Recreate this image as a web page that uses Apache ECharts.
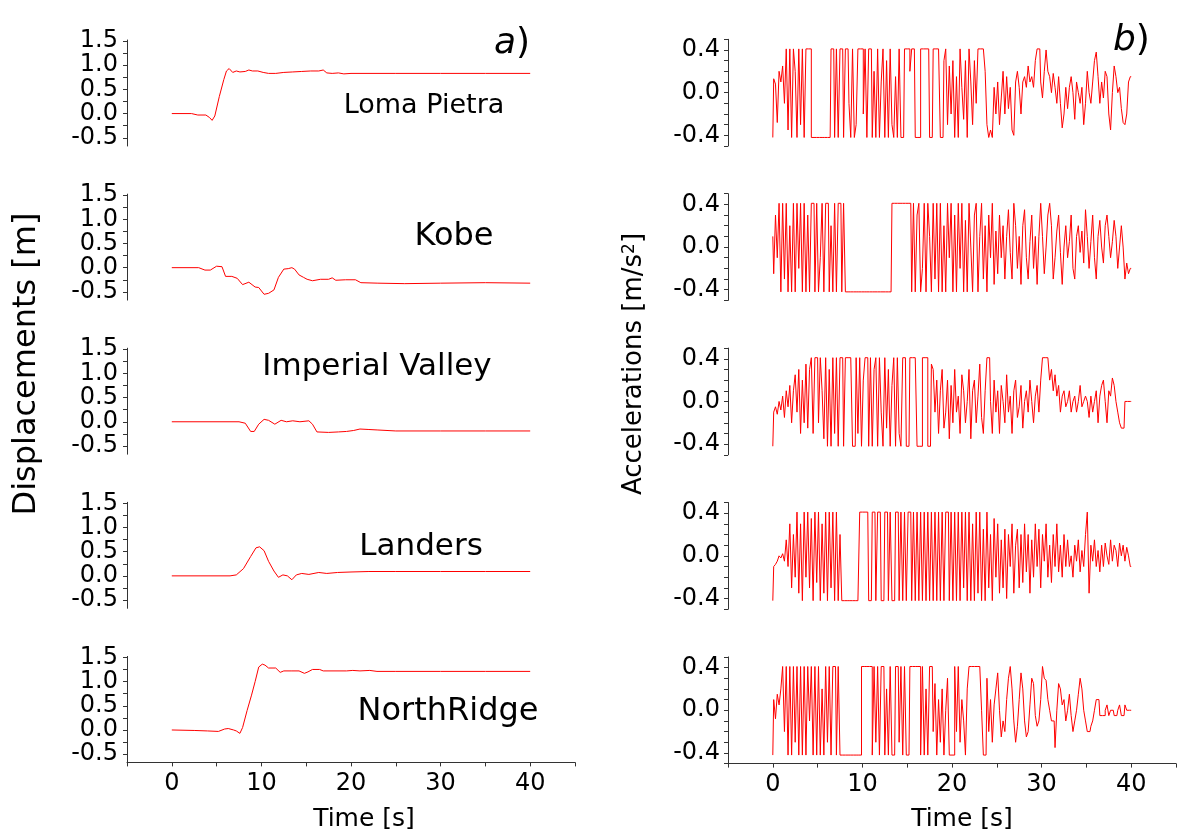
<!DOCTYPE html>
<html>
<head>
<meta charset="utf-8">
<script src="https://cdn.jsdelivr.net/npm/echarts@6/dist/echarts.min.js"></script>
<style>
html,body{margin:0;padding:0;background:#fff;}
#chart{width:1177px;height:837px;}
</style>
</head>
<body>
<div id="chart"></div>
<script>
// ---------------- DATA ----------------
const quakeNames = ['Loma Pietra', 'Kobe', 'Imperial Valley', 'Landers', 'NorthRidge'];

// tick values / tick labels
const timeTicks = [-5, 0, 5, 10, 15, 20, 25, 30, 35, 40, 45];
const timeTickLabels = [0, 10, 20, 30, 40];
const dispTicks = [-0.5, -0.25, 0, 0.25, 0.5, 0.75, 1, 1.25, 1.5];
const dispTickLabels = [-0.5, 0, 0.5, 1, 1.5];
const accTicks = [-0.5, -0.4, -0.3, -0.2, -0.1, 0, 0.1, 0.2, 0.3, 0.4, 0.5];
const accTickLabels = [-0.4, 0, 0.4];

// displacements [time s, displacement m]
const dispLoma = [[0,0],[2.2,0],[2.9,-0.03],[3.8,-0.03],[4.2,-0.08],[4.5,-0.14],[4.8,-0.05],[5.3,0.35],[5.8,0.7],[6.1,0.88],[6.4,0.93],[6.8,0.85],[7.2,0.88],[7.6,0.86],[8.2,0.87],[8.6,0.9],[9.0,0.88],[9.6,0.88],[10.2,0.85],[10.8,0.83],[11.6,0.83],[12.5,0.85],[13.5,0.86],[14.5,0.87],[15.5,0.88],[16.4,0.88],[16.9,0.9],[17.3,0.84],[17.9,0.83],[18.6,0.84],[19.2,0.82],[20,0.83],[25,0.83],[30,0.83],[35,0.83],[40,0.83]];
const dispKobe = [[0,0],[3,0],[3.7,-0.05],[4.3,-0.05],[5.0,0.03],[5.6,0.02],[6.0,-0.18],[6.7,-0.18],[7.3,-0.22],[7.9,-0.35],[8.6,-0.3],[9.3,-0.4],[9.7,-0.41],[10.3,-0.55],[10.8,-0.53],[11.4,-0.46],[11.9,-0.2],[12.5,-0.03],[13.0,-0.02],[13.4,0.0],[13.7,-0.03],[14.2,-0.15],[14.7,-0.2],[15.1,-0.24],[15.7,-0.27],[16.6,-0.24],[17.5,-0.24],[17.9,-0.21],[18.3,-0.26],[19.4,-0.25],[20.5,-0.25],[21.1,-0.31],[23,-0.32],[26,-0.33],[30,-0.32],[35,-0.31],[40,-0.32]];
const dispImperial = [[0,0],[7.5,0],[8.2,-0.03],[8.8,-0.2],[9.2,-0.2],[9.7,-0.05],[10.3,0.05],[10.8,0.03],[11.5,-0.05],[12.2,0.03],[12.8,0.0],[13.5,0.02],[14.3,0.0],[15.3,0.02],[15.7,-0.05],[16.2,-0.21],[17.5,-0.22],[18.6,-0.21],[19.5,-0.2],[20.3,-0.18],[21,-0.15],[22,-0.16],[23,-0.17],[25,-0.19],[30,-0.19],[35,-0.19],[40,-0.19]];
const dispLanders = [[0,0],[6.5,0],[7.2,0.02],[8.0,0.15],[8.8,0.4],[9.4,0.58],[9.8,0.6],[10.3,0.52],[10.8,0.3],[11.4,0.1],[11.9,-0.03],[12.4,0.02],[12.9,0.0],[13.4,-0.08],[13.9,0.02],[14.5,0.05],[15.3,0.03],[16.4,0.07],[17.3,0.05],[18.5,0.07],[20,0.08],[22,0.09],[25,0.09],[30,0.09],[35,0.09],[40,0.09]];
const dispNorth = [[0,0],[2.5,-0.01],[4,-0.02],[5.2,-0.03],[5.9,0.02],[6.3,0.03],[6.9,0.0],[7.2,-0.02],[7.6,-0.07],[7.9,0.05],[8.4,0.4],[8.9,0.72],[9.3,1.0],[9.7,1.3],[10.1,1.36],[10.4,1.34],[10.8,1.28],[11.6,1.28],[12.1,1.19],[12.5,1.22],[13.4,1.22],[14.2,1.22],[14.8,1.17],[15.2,1.2],[15.7,1.25],[16.5,1.25],[16.9,1.22],[19.5,1.22],[20.2,1.23],[21,1.22],[22.1,1.23],[22.9,1.21],[25,1.21],[30,1.21],[35,1.21],[40,1.21]];

// accelerations, one value every 0.2 s from 0 to 40 s (5 values per line = 1 s)
const ACC_DT = 0.2;
const accLoma = [
-0.42,0.13,0.08,-0.28,0.2,
0.1,0.25,-0.1,0.41,-0.35,
0.41,-0.42,0.41,0.2,-0.42,
0.41,-0.3,0.41,-0.42,0.41,
0.41,0.41,-0.42,-0.42,-0.42,
-0.42,-0.42,-0.42,-0.42,-0.42,
-0.42,-0.42,-0.42,0.41,0.41,
-0.42,0.41,-0.42,0.41,0.41,
-0.42,0.41,0.41,-0.1,-0.42,
0.41,-0.42,-0.3,0.41,0.41,
0.41,-0.2,0.41,-0.42,0.41,
0.41,-0.42,0.2,-0.42,0.41,
-0.42,0.1,0.41,-0.42,0.3,
-0.42,0.41,-0.3,-0.42,0.15,
-0.42,0.41,-0.42,-0.42,0.41,
0.41,0.41,0.2,0.41,0.41,
-0.42,-0.42,-0.42,0.41,0.41,
0.41,0.41,0.41,-0.42,-0.42,
0.41,0.41,0.41,0.41,-0.42,
-0.42,0.3,0.41,-0.3,0.25,
-0.2,0.3,-0.42,0.15,-0.42,
0.41,0.05,-0.25,0.3,-0.42,
0.41,0.1,-0.3,0.3,-0.1,
0.41,0.41,0.41,0.41,0.2,
-0.3,-0.42,-0.35,-0.42,0.05,
-0.2,0.1,-0.3,-0.05,0.2,
-0.2,0.15,-0.15,0.05,-0.35,
-0.4,0.1,0.2,0.05,-0.2,
0.1,0.15,0.05,0.25,0.1,
0.15,0.05,0.3,0.41,0.41,
0.1,-0.05,0.2,0.4,0.2,
0.15,0.0,0.18,0.05,-0.1,
0.15,-0.1,-0.33,-0.2,0.05,
-0.15,0.05,0.15,0.0,-0.25,
0.1,0.0,-0.1,0.05,-0.3,
-0.1,0.2,0.0,-0.1,0.1,
0.3,0.38,0.15,-0.1,0.1,
-0.05,0.2,0.15,-0.2,-0.35,
0.0,0.25,0.15,0.0,0.05,
-0.15,-0.28,-0.3,-0.2,0.1,
0.15];
const accKobe = [
0.1,-0.25,0.3,-0.1,0.41,
-0.42,0.41,-0.3,0.41,-0.42,
0.2,-0.42,0.41,-0.42,0.41,
-0.2,0.41,-0.42,0.41,-0.42,
0.3,-0.42,0.41,0.41,-0.42,
0.41,-0.42,-0.1,0.41,-0.42,
0.41,0.41,-0.42,0.2,-0.42,
0.41,-0.42,0.41,0.41,-0.42,
0.41,-0.42,-0.42,-0.42,-0.42,
-0.42,-0.42,-0.42,-0.42,-0.42,
-0.42,-0.42,-0.42,-0.42,-0.42,
-0.42,-0.42,-0.42,-0.42,-0.42,
-0.42,-0.42,-0.42,-0.42,-0.42,
-0.42,-0.42,0.41,0.41,0.41,
0.41,0.41,0.41,0.41,0.41,
0.41,0.41,0.41,-0.42,0.41,
-0.42,0.3,0.41,-0.42,-0.2,
0.41,-0.42,0.41,0.1,-0.42,
0.41,-0.3,0.41,-0.42,0.41,
-0.42,0.2,-0.42,0.41,-0.1,
0.41,-0.42,0.3,-0.42,0.41,
-0.2,0.41,-0.42,0.25,-0.42,
0.41,0.0,-0.42,0.3,0.41,
-0.42,0.1,0.41,-0.3,0.2,
-0.42,0.3,-0.1,0.41,-0.35,
0.15,-0.25,0.3,-0.1,0.2,
-0.3,0.1,0.35,-0.05,-0.3,
0.41,0.2,-0.2,0.1,-0.35,
0.2,0.35,-0.1,-0.3,0.05,
0.3,-0.2,0.1,-0.35,0.1,
0.41,0.1,-0.25,0.0,0.3,
0.41,0.2,-0.3,-0.1,0.15,
0.3,-0.05,-0.35,0.0,0.2,
-0.1,0.05,0.3,-0.2,-0.3,
0.1,0.2,-0.05,0.15,-0.15,
0.35,0.1,-0.2,0.05,0.3,
-0.1,-0.3,0.1,0.25,0.0,
-0.15,0.2,0.3,0.1,-0.1,
0.05,0.25,0.1,-0.2,0.0,
0.2,0.0,-0.3,-0.15,-0.25,
-0.2];
const accImperial = [
-0.42,-0.1,-0.05,-0.12,0.0,
-0.08,0.05,-0.15,0.1,-0.05,
0.15,-0.2,0.1,0.25,-0.1,
0.3,-0.3,0.2,-0.2,0.35,
-0.25,0.3,0.41,-0.3,0.41,
0.41,-0.2,0.41,0.1,-0.35,
0.41,-0.42,0.3,-0.42,0.41,
-0.3,0.41,-0.42,0.41,0.41,
-0.42,0.41,0.41,0.41,0.41,
-0.42,-0.42,0.41,-0.3,0.41,
-0.42,0.2,0.41,0.41,-0.42,
0.41,-0.42,0.3,0.41,-0.42,
0.41,-0.1,-0.42,0.41,-0.25,
0.3,-0.42,0.15,0.41,-0.42,
0.41,-0.3,-0.42,0.41,0.41,
-0.42,-0.42,0.41,0.41,0.41,
0.41,-0.42,-0.42,-0.42,0.41,
0.41,0.41,-0.42,-0.42,0.35,
0.3,-0.1,0.2,-0.3,0.1,
0.3,-0.25,-0.1,0.2,-0.35,
0.15,-0.2,0.3,-0.1,0.05,
-0.3,0.25,0.1,-0.2,0.0,
0.3,-0.35,0.1,0.2,-0.2,
0.05,0.35,-0.15,-0.3,0.1,
0.41,0.41,0.0,-0.3,0.2,
-0.1,0.1,-0.3,0.15,0.0,
-0.2,0.25,-0.1,0.05,-0.3,
0.1,0.2,-0.15,-0.05,0.15,
-0.25,0.0,0.1,-0.1,0.2,
0.0,-0.2,0.05,0.15,-0.1,
0.2,0.41,0.41,0.41,0.41,
0.2,0.3,0.1,0.25,0.05,
0.15,-0.1,0.05,0.1,-0.05,
0.0,0.1,-0.1,0.0,0.05,
-0.1,0.0,0.15,-0.05,0.0,
0.05,0.0,-0.15,0.05,-0.1,
0.0,0.1,-0.2,0.05,0.15,
0.2,0.0,-0.2,0.1,0.05,
0.22,0.15,0.0,-0.1,-0.2,
-0.25,-0.25,0.0,0.0,0.0,
0.0];
const accLanders = [
-0.42,-0.1,-0.08,-0.05,0.0,
-0.02,0.02,-0.05,0.15,-0.1,
0.3,-0.3,0.2,-0.2,0.41,
-0.35,0.3,-0.42,0.41,-0.2,
0.41,-0.3,0.35,-0.42,0.41,
-0.25,0.41,-0.42,0.3,-0.35,
0.41,-0.42,0.41,-0.3,0.41,
-0.42,0.41,-0.42,0.2,-0.42,
-0.42,-0.42,-0.42,-0.42,-0.42,
-0.42,-0.42,-0.42,-0.42,0.41,
0.41,0.41,0.41,0.41,-0.42,
-0.42,0.41,0.41,-0.42,0.41,
0.41,-0.42,-0.42,0.41,0.41,
-0.42,0.41,-0.42,-0.42,0.41,
0.41,-0.42,0.41,-0.42,0.41,
-0.42,0.41,0.41,-0.42,0.41,
-0.42,0.41,-0.42,0.41,-0.42,
0.41,-0.42,0.41,-0.42,0.41,
-0.42,0.41,-0.42,0.41,-0.42,
0.41,-0.42,0.41,0.41,-0.42,
0.41,-0.42,0.41,-0.42,0.41,
-0.42,0.41,-0.3,0.41,-0.42,
0.41,-0.42,0.3,-0.42,0.41,
-0.35,0.41,-0.42,0.25,-0.42,
0.41,-0.3,0.2,-0.42,0.35,
-0.2,0.3,-0.35,0.15,-0.3,
0.25,-0.4,0.2,-0.1,0.3,
-0.35,0.1,0.25,-0.3,0.2,
-0.25,0.3,-0.15,0.2,-0.35,
0.15,-0.2,0.3,-0.1,0.25,
-0.3,0.2,-0.05,0.3,-0.2,
0.1,-0.25,0.2,-0.1,0.3,
-0.15,0.1,-0.2,0.2,-0.1,
0.15,-0.1,0.0,-0.2,0.1,
-0.05,0.15,-0.15,0.05,-0.1,
0.2,0.41,-0.35,0.1,-0.05,
0.15,-0.1,0.05,-0.15,0.1,
-0.1,0.12,0.0,-0.08,0.15,
-0.05,0.1,0.05,-0.1,0.12,
0.0,0.1,-0.05,0.08,0.0,
-0.1];
const accNorth = [
-0.42,0.1,-0.08,0.15,0.05,
0.2,0.41,-0.2,0.41,-0.42,
0.41,-0.42,0.41,-0.3,0.41,
-0.42,0.41,-0.42,0.41,-0.42,
0.41,-0.1,0.41,-0.42,0.41,
-0.42,0.41,-0.42,0.2,-0.42,
0.41,-0.3,0.41,-0.42,0.41,
0.41,-0.42,0.41,-0.42,-0.42,
-0.42,-0.42,-0.42,-0.42,-0.42,
-0.42,-0.42,-0.42,-0.42,-0.42,
0.41,0.41,0.41,0.41,0.41,
0.41,-0.42,0.41,-0.3,0.41,
-0.42,0.41,0.41,-0.42,0.2,
-0.42,0.41,-0.42,-0.42,0.41,
0.41,-0.3,0.41,-0.42,0.41,
-0.42,-0.42,0.41,0.41,0.41,
0.41,0.41,0.41,-0.42,0.41,
-0.42,0.2,-0.42,0.41,0.41,
-0.2,0.25,-0.42,0.1,-0.3,
0.2,-0.42,0.0,0.3,-0.42,
-0.42,-0.42,0.41,-0.2,0.41,
-0.3,0.1,-0.1,-0.42,0.2,
0.41,0.41,0.41,0.41,0.41,
0.41,0.41,0.0,-0.42,-0.42,
0.3,-0.2,0.1,-0.3,0.05,
0.2,0.35,0.0,-0.25,-0.1,
-0.2,0.1,0.3,0.41,0.2,
-0.1,-0.3,-0.15,0.1,0.35,
0.2,-0.1,-0.25,-0.2,0.05,
0.3,0.25,-0.05,-0.15,-0.1,
0.1,0.41,0.3,0.28,0.1,
0.0,-0.1,-0.1,-0.35,0.0,
0.25,0.2,0.05,0.1,-0.1,
0.0,0.15,-0.05,-0.2,-0.1,
0.0,0.15,0.3,0.2,0.0,
-0.1,-0.2,-0.2,-0.15,-0.1,
0.0,0.1,0.1,-0.05,-0.05,
-0.05,0.0,0.05,-0.05,0.0,
0.0,-0.05,-0.05,0.0,0.05,
-0.05,-0.05,0.05,0.0,0.0,
0.0];

const dispSeriesData = [dispLoma, dispKobe, dispImperial, dispLanders, dispNorth];
const accSeriesData = [accLoma, accKobe, accImperial, accLanders, accNorth];

// ---------------- CHART ----------------
const FONT = '"DejaVu Sans", "Liberation Sans", sans-serif';
const AXIS_COLOR = '#333';
const LINE_COLOR = '#ff0000';

function accPairs(vals) {
  return vals.map((v, i) => [Math.round(i * ACC_DT * 100) / 100, v]);
}

const grids = [], xAxes = [], yAxes = [], series = [];
const annotPos = [
  { x: 424, y: 106, size: 27 },
  { x: 454, y: 237, size: 32 },
  { x: 377, y: 367, size: 31 },
  { x: 421, y: 547, size: 31 },
  { x: 448, y: 712, size: 32 }
];

for (let i = 0; i < 5; i++) {
  grids.push({ left: 127, top: 40 + i * 154.1, width: 448, height: 106, outerBoundsMode: 'none' });
  grids.push({ left: 728, top: 39.3 + i * 154.4, width: 448, height: 106.7, outerBoundsMode: 'none' });
}

for (let g = 0; g < 10; g++) {
  const row = Math.floor(g / 2);
  const isBottom = row === 4;
  const isLeft = g % 2 === 0;
  xAxes.push({
    type: 'value', gridIndex: g, min: -5, max: 45,
    show: isBottom,
    axisLine: { show: true, onZero: false, lineStyle: { color: AXIS_COLOR, width: 1 } },
    axisTick: { show: true, length: 4, customValues: timeTicks, lineStyle: { color: AXIS_COLOR } },
    axisLabel: { customValues: timeTickLabels, fontSize: 24, fontFamily: FONT, color: '#000', margin: 9 },
    splitLine: { show: false }
  });
  if (isLeft) {
    yAxes.push({
      type: 'value', gridIndex: g, min: -0.67, max: 1.52,
      axisLine: { show: true, onZero: false, lineStyle: { color: AXIS_COLOR, width: 1 } },
      axisTick: { show: true, length: 4, customValues: dispTicks, lineStyle: { color: AXIS_COLOR } },
      axisLabel: { customValues: dispTickLabels, fontSize: 24, fontFamily: FONT, color: '#000', margin: 9,
        formatter: v => Number(v).toFixed(1) },
      splitLine: { show: false }
    });
  } else {
    yAxes.push({
      type: 'value', gridIndex: g, min: -0.5, max: 0.5,
      axisLine: { show: true, onZero: false, lineStyle: { color: AXIS_COLOR, width: 1 } },
      axisTick: { show: true, length: 4, customValues: accTicks, lineStyle: { color: AXIS_COLOR } },
      axisLabel: { customValues: accTickLabels, fontSize: 24, fontFamily: FONT, color: '#000', margin: 8,
        formatter: v => Number(v).toFixed(1) },
      splitLine: { show: false }
    });
  }
  series.push({
    type: 'line', xAxisIndex: g, yAxisIndex: g,
    data: isLeft ? dispSeriesData[row] : accPairs(accSeriesData[row]),
    step: isLeft ? false : 'middle',
    showSymbol: false, symbol: 'none',
    lineStyle: { color: LINE_COLOR, width: 1 },
    itemStyle: { color: LINE_COLOR },
    emphasis: { disabled: true },
    animation: false
  });
}

const graphic = [];
quakeNames.forEach((name, i) => {
  const p = annotPos[i];
  graphic.push({ type: 'text', x: p.x, y: p.y,
    style: { text: name, fontSize: p.size, fontFamily: FONT, fill: '#000', align: 'center', verticalAlign: 'middle' } });
});
graphic.push({ type: 'text', x: 27, y: 364, rotation: Math.PI / 2,
  style: { text: 'Displacements [m]', fontSize: 32, fontFamily: FONT, fill: '#000', align: 'center', verticalAlign: 'middle' } });
graphic.push({ type: 'text', x: 634, y: 364, rotation: Math.PI / 2,
  style: { text: '{a|Accelerations [m/s}{s|2}{a|]}', align: 'center', verticalAlign: 'middle',
    rich: { a: { fontSize: 26, fontFamily: FONT, fill: '#000', color: '#000' },
            s: { fontSize: 17, fontFamily: FONT, fill: '#000', color: '#000', verticalAlign: 'top' } } } });
graphic.push({ type: 'text', x: 364, y: 819,
  style: { text: 'Time [s]', fontSize: 25, fontFamily: FONT, fill: '#000', align: 'center', verticalAlign: 'middle' } });
graphic.push({ type: 'text', x: 962, y: 819,
  style: { text: 'Time [s]', fontSize: 25, fontFamily: FONT, fill: '#000', align: 'center', verticalAlign: 'middle' } });
graphic.push({ type: 'text', x: 494, y: 44,
  style: { text: '{i|a}{n|)}', align: 'left', verticalAlign: 'middle',
    rich: { i: { fontSize: 36, fontStyle: 'italic', fontFamily: FONT, color: '#000' },
            n: { fontSize: 36, fontFamily: FONT, color: '#000' } } } });
graphic.push({ type: 'text', x: 1113, y: 41,
  style: { text: '{i|b}{n|)}', align: 'left', verticalAlign: 'middle',
    rich: { i: { fontSize: 36, fontStyle: 'italic', fontFamily: FONT, color: '#000' },
            n: { fontSize: 36, fontFamily: FONT, color: '#000' } } } });

const chart = echarts.init(document.getElementById('chart'), null, { renderer: 'canvas' });
chart.setOption({
  backgroundColor: '#fff',
  animation: false,
  grid: grids,
  xAxis: xAxes,
  yAxis: yAxes,
  series: series,
  graphic: graphic
});
</script>
</body>
</html>
